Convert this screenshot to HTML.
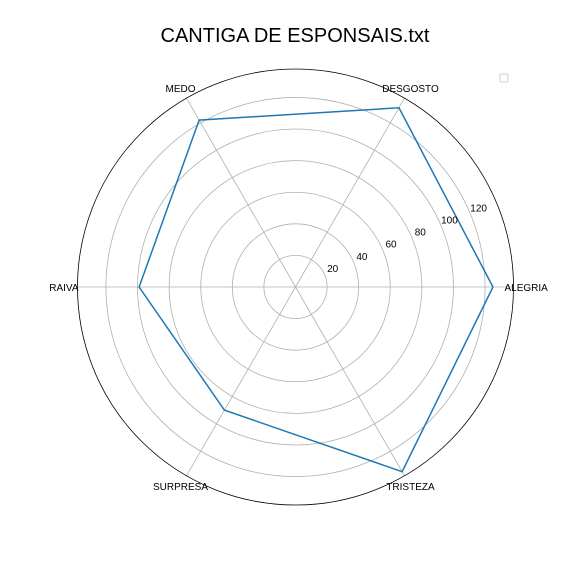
<!DOCTYPE html>
<html><head><meta charset="utf-8"><style>
body{margin:0;background:#fff;}
svg text{font-family:"Liberation Sans","DejaVu Sans",sans-serif;}
</style></head><body>
<svg id="chart" width="576" height="576" viewBox="0 0 576 576">
<rect width="576" height="576" fill="#fff"/>
<text x="295" y="42" font-size="20" text-anchor="middle" fill="#000">CANTIGA DE ESPONSAIS.txt</text>
<rect x="500" y="74" width="8" height="8" fill="#fff" stroke="#ccc" stroke-width="1" rx="1"/>
<g id="grid"></g><g id="series"></g><g id="labels"></g>
</svg>
<script>
const categories=["ALEGRIA","DESGOSTO","MEDO","RAIVA","SURPRESA","TRISTEZA"];
const values=[125,131,122,99,90,135];
const ticks=[20,40,60,80,100,120];
const rMaxValue=138;
const cx=295.5,cy=287,R=218;
const ns="http://www.w3.org/2000/svg";
function rs(v){return v/rMaxValue*R;}
function ang(i){return i*2*Math.PI/categories.length;}
function pt(i,v){const a=ang(i);return [cx+rs(v)*Math.cos(a),cy-rs(v)*Math.sin(a)];}
function mk(tag,attrs,parent){const e=document.createElementNS(ns,tag);for(const k in attrs)e.setAttribute(k,attrs[k]);parent.appendChild(e);return e;}
const grid=document.getElementById('grid'),series=document.getElementById('series'),labels=document.getElementById('labels');
ticks.forEach(t=>{
 const c=mk('circle',{cx:cx,cy:cy,r:rs(t),fill:'none',stroke:'#b0b0b0','stroke-width':0.8},grid);
 
 
 const a=22.5*Math.PI/180;
 const tx=mk('text',{x:cx+rs(t)*Math.cos(a)+8,y:cy-rs(t)*Math.sin(a)-3,'font-size':10,'text-anchor':'middle',fill:'#000'},labels);
 tx.textContent=t;
 
 
});
categories.forEach((c,i)=>{
 const a=ang(i);
 const l=mk('line',{x1:cx,y1:cy,x2:cx+R*Math.cos(a),y2:cy-R*Math.sin(a),stroke:'#b0b0b0','stroke-width':0.8},grid);
 
 
 const lr=R+12;
 let x=cx+lr*Math.cos(a),y=cy-lr*Math.sin(a);
 let anchor='middle';
 if(Math.cos(a)>0.9){anchor='start';x=cx+R-9;}
 if(Math.cos(a)<-0.9){anchor='end';x=cx-R+1;}
 const t=mk('text',{x:x,y:y+4,'font-size':10,'text-anchor':anchor,fill:'#000'},labels);
 t.textContent=c;
 
 
});
const outer=mk('circle',{cx:cx,cy:cy,r:R,fill:'none',stroke:'#000','stroke-width':0.8},grid);


const pts=values.map((v,i)=>pt(i,v));pts.push(pts[0]);
const poly=mk('polyline',{points:pts.map(p=>p.join(',')).join(' '),fill:'none',stroke:'#1f77b4','stroke-width':1.5},series);


</script>
</body></html>
